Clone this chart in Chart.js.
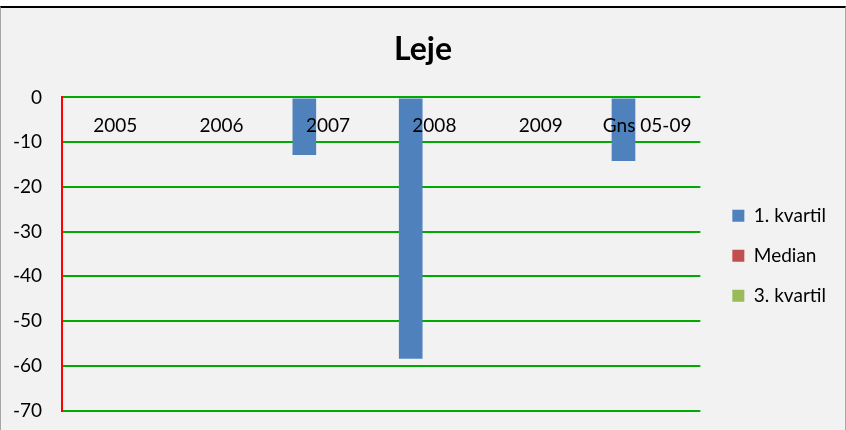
<!DOCTYPE html>
<html>
<head>
<meta charset="utf-8">
<script src="https://cdn.jsdelivr.net/npm/chart.js@4.4.0/dist/chart.umd.min.js"></script>
<style>
  body { margin: 0; background: #fff; }
  #wrap {
    position: absolute; left: 0; top: 6px; width: 844px; height: 422px;
    background: #f2f2f2;
    border-top: 2px solid #000;
    border-left: 1px solid #a6a6a6;
    border-right: 1px solid #a6a6a6;
    overflow: hidden;
  }
</style>
</head>
<body>
<div id="wrap"><canvas id="leje" width="844" height="434"></canvas></div>
<script>
// kategorier og serier
var kategorier = ["2005", "2006", "2007", "2008", "2009", "Gns 05-09"];
var kvartil1 = [0, 0, -12.9, -58.4, 0, -14.2];
var median = [0, 0, 0, 0, 0, 0];
var kvartil3 = [0, 0, 0, 0, 0, 0];
var yTicks = [0, -10, -20, -30, -40, -50, -60, -70];

var font = "Lato, 'Open Sans', sans-serif";
var gridFarve = "#868686";

// lodret akselinje kun mellem 0 og -70
var venstreKant = {
  id: "venstreKant",
  afterDatasetsDraw: function (chart) {
    var y = chart.scales.y;
    var c = chart.ctx;
    var x = Math.round(chart.chartArea.left);
    c.save();
    c.strokeStyle = "#ff0000";
    c.lineWidth = 2;
    c.beginPath();
    c.moveTo(x, Math.round(y.getPixelForValue(y.max)) - 1);
    c.lineTo(x, Math.round(y.getPixelForValue(y.min)) + 1);
    c.stroke();
    c.restore();
  },
};

var ctx = document.getElementById("leje").getContext("2d");

var chart = new Chart(ctx, {
  type: "bar",
  data: {
    labels: kategorier,
    datasets: [
      { label: "1. kvartil", data: kvartil1, backgroundColor: "#4f81bd", borderWidth: 0 },
      { label: "Median", data: median, backgroundColor: "#c0504d", borderWidth: 0 },
      { label: "3. kvartil", data: kvartil3, backgroundColor: "#9bbb59", borderWidth: 0 },
    ],
  },
  plugins: [venstreKant],
  options: {
    responsive: false,
    animation: false,
    layout: { padding: { left: 9, right: 9, top: 0, bottom: 7 } },
    datasets: {
      bar: { categoryPercentage: 0.667, barPercentage: 1.0 },
    },
    plugins: {
      title: {
        display: true,
        text: "Leje",
        color: "#000",
        font: { family: font, size: 32, weight: "bold" },
        padding: { top: 22, bottom: 29 },
      },
      legend: {
        position: "right",
        title: { display: true, text: "", padding: { top: 0, bottom: 54 } },
        labels: {
          color: "#000",
          font: { family: font, size: 19 },
          boxWidth: 12,
          boxHeight: 12,
          padding: 21,
        },
      },
      tooltip: { enabled: false },
    },
    scales: {
      x: {
        position: { y: 0 },
        grid: { display: false },
        border: { display: false },
        ticks: {
          z: 1,
          color: "#000",
          font: { family: font, size: 19 },
          padding: 9,
          maxRotation: 0,
          autoSkip: false,
        },
        afterFit: function (scale) {
          scale.paddingLeft = 0;
          scale.paddingRight = 0;
        },
      },
      y: {
        min: -70,
        max: 0,
        afterBuildTicks: function (scale) {
          scale.ticks = yTicks.map(function (v) { return { value: v }; });
        },
        afterFit: function (scale) {
          scale.width = 52;
        },
        grid: { color: "#00aa00", lineWidth: 2, drawTicks: false },
        border: { display: false },
        ticks: {
          color: "#000",
          font: { family: font, size: 19 },
          padding: 20,
        },
      },
      luft: {
        axis: "y",
        position: "right",
        grid: { display: false },
        border: { display: false },
        ticks: { display: false },
        afterFit: function (scale) {
          scale.width = 11;
        },
      },
    },
  },
});
</script>
</body>
</html>
